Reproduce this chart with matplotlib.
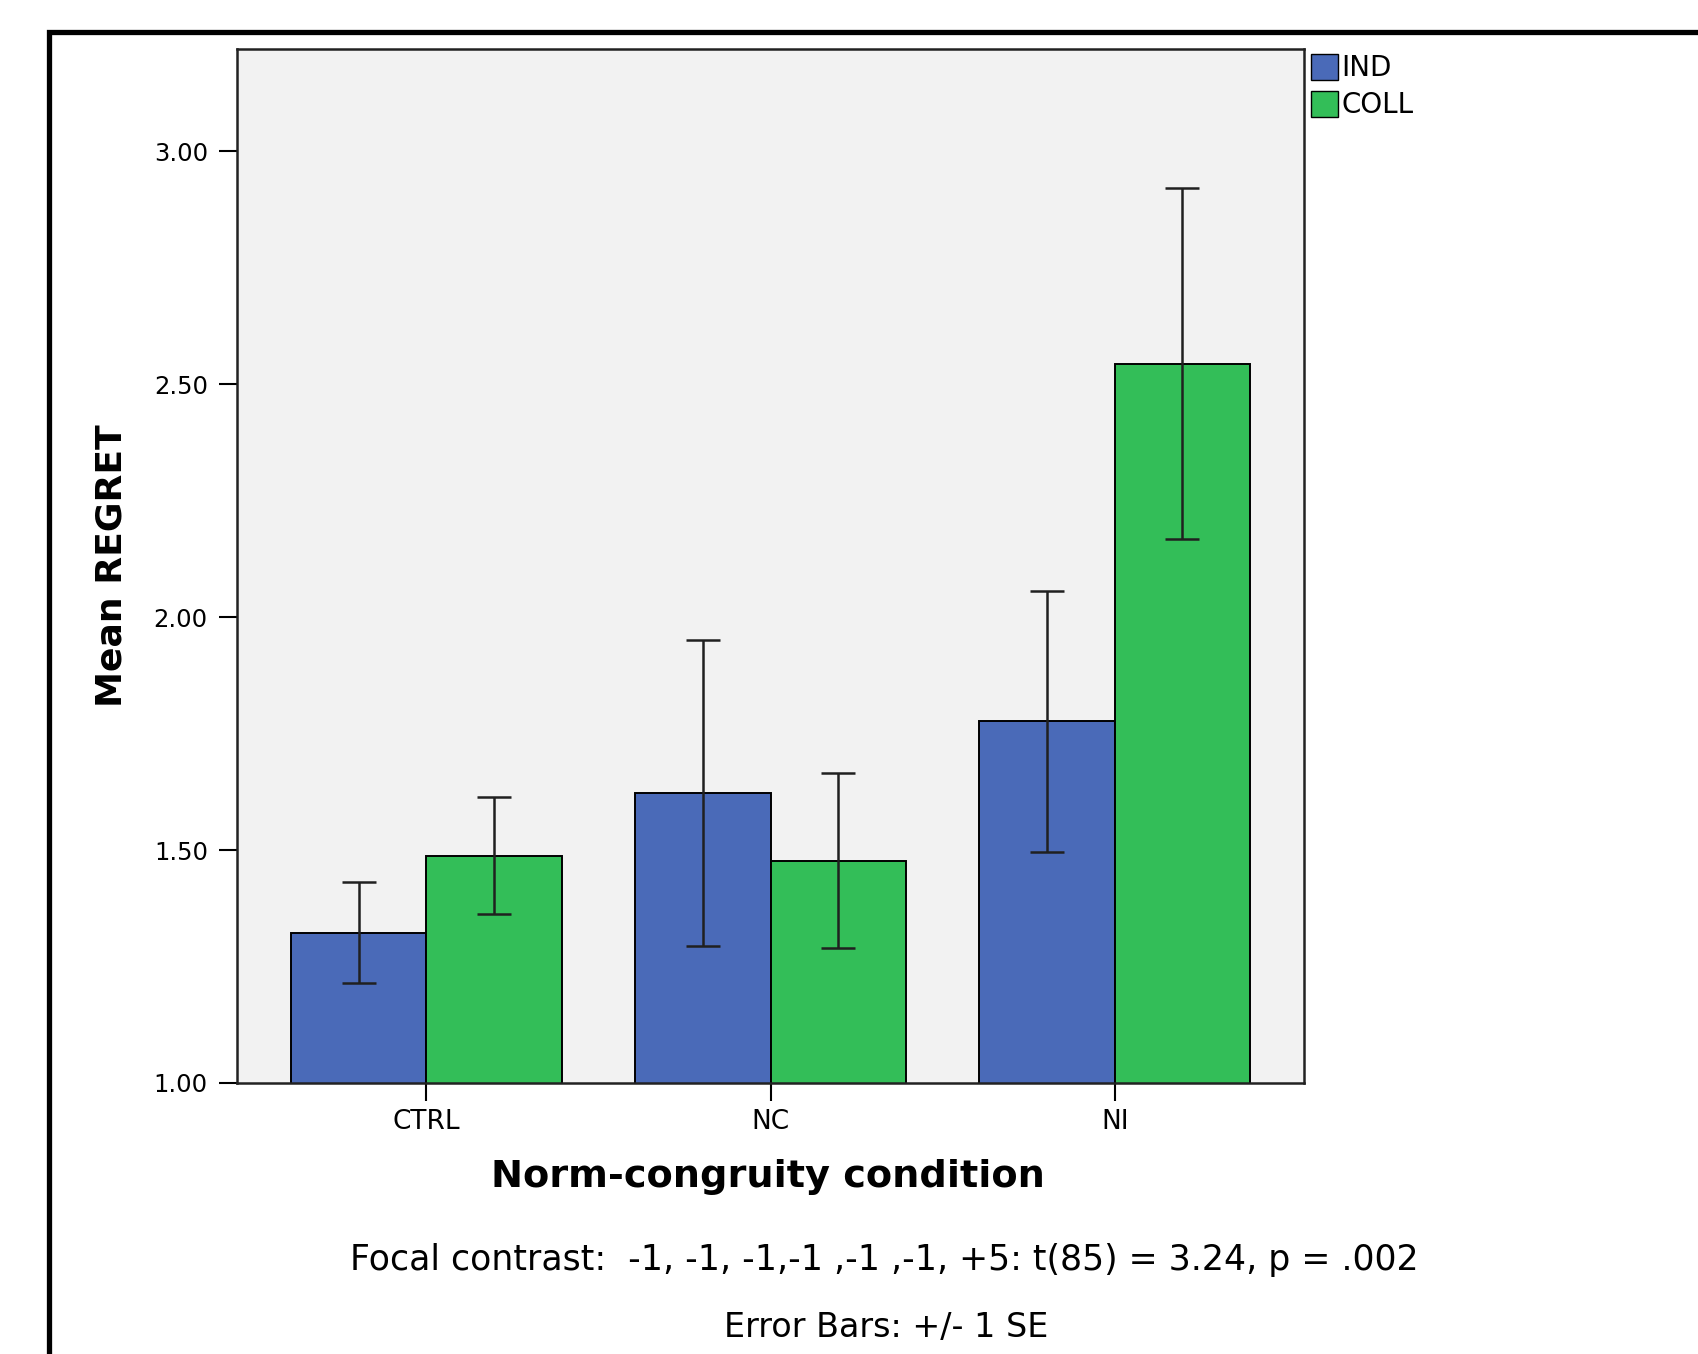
import numpy as np
import matplotlib.pyplot as plt
from matplotlib.patches import Rectangle, Patch

# data
conditions = ['CTRL', 'NC', 'NI']
groups = ['IND', 'COLL']
mean_ind = [1.323, 1.623, 1.777]
mean_coll = [1.488, 1.477, 2.544]
se_ind = [0.108, 0.328, 0.280]
se_coll = [0.125, 0.188, 0.377]
yticks = [1.00, 1.50, 2.00, 2.50, 3.00]

c_ind = '#4A6AB8'
c_coll = '#33BE58'

plt.rcParams['font.family'] = 'DejaVu Sans'

fig = plt.figure(figsize=(16.98, 13.54), dpi=100)
ax = fig.add_axes([237/1698, 1-1083/1354, (1304-237)/1698, (1083-49)/1354])
ax.set_facecolor('#F2F2F2')

x = np.arange(len(conditions))
w = 0.393
ekw = dict(ecolor='#202020', elinewidth=1.8, capsize=12, capthick=1.8)
ax.bar(x - w/2, mean_ind, w, color=c_ind, edgecolor='black', linewidth=1.4,
       yerr=se_ind, error_kw=ekw, bottom=0)
ax.bar(x + w/2, mean_coll, w, color=c_coll, edgecolor='black', linewidth=1.4,
       yerr=se_coll, error_kw=ekw, bottom=0)

ax.set_xlim(-0.55, 2.55)
ax.set_ylim(1.0, 3.22)
ax.set_yticks(yticks)
ax.set_yticklabels(['%.2f' % t for t in yticks])
ax.set_xticks(x)
ax.set_xticklabels(conditions)
ax.tick_params(axis='both', length=13, width=1.5, colors='black')
ax.tick_params(axis='y', pad=8, labelsize=17.5)
ax.tick_params(axis='x', pad=6, labelsize=19)
for s in ax.spines.values():
    s.set_linewidth(1.8)
    s.set_color('#222222')

ax.set_ylabel('Mean REGRET', fontsize=26, fontweight='bold')
ax.yaxis.set_label_coords(-0.102, 0.5)

fig.text(768/1698, 1-1177/1354, 'Norm-congruity condition', fontsize=27.5,
         fontweight='bold', ha='center', va='center')
fig.text(884/1698, 1-1260/1354,
         'Focal contrast:  -1, -1, -1,-1 ,-1 ,-1, +5: t(85) = 3.24, p = .002',
         fontsize=25, ha='center', va='center')
fig.text(886/1698, 1-1327/1354, 'Error Bars: +/- 1 SE', fontsize=24,
         ha='center', va='center')

handles = [Patch(facecolor=c_ind, edgecolor='black', label=groups[0]),
           Patch(facecolor=c_coll, edgecolor='black', label=groups[1])]
fig.legend(handles=handles, loc='upper left',
           bbox_to_anchor=(1305/1698, 1-48/1354), frameon=False, fontsize=20,
           handlelength=1.0, handleheight=1.1, handletextpad=0.1,
           labelspacing=0.3, borderaxespad=0, borderpad=0.2)

# outer frame that runs off the image
fig.patches.append(Rectangle((48.5/1698, -0.2), 2, 1.2 - 31.5/1354,
                             transform=fig.transFigure, fill=False,
                             edgecolor='black', linewidth=3.8, clip_on=False))

fig.savefig('out.png', dpi=100)
